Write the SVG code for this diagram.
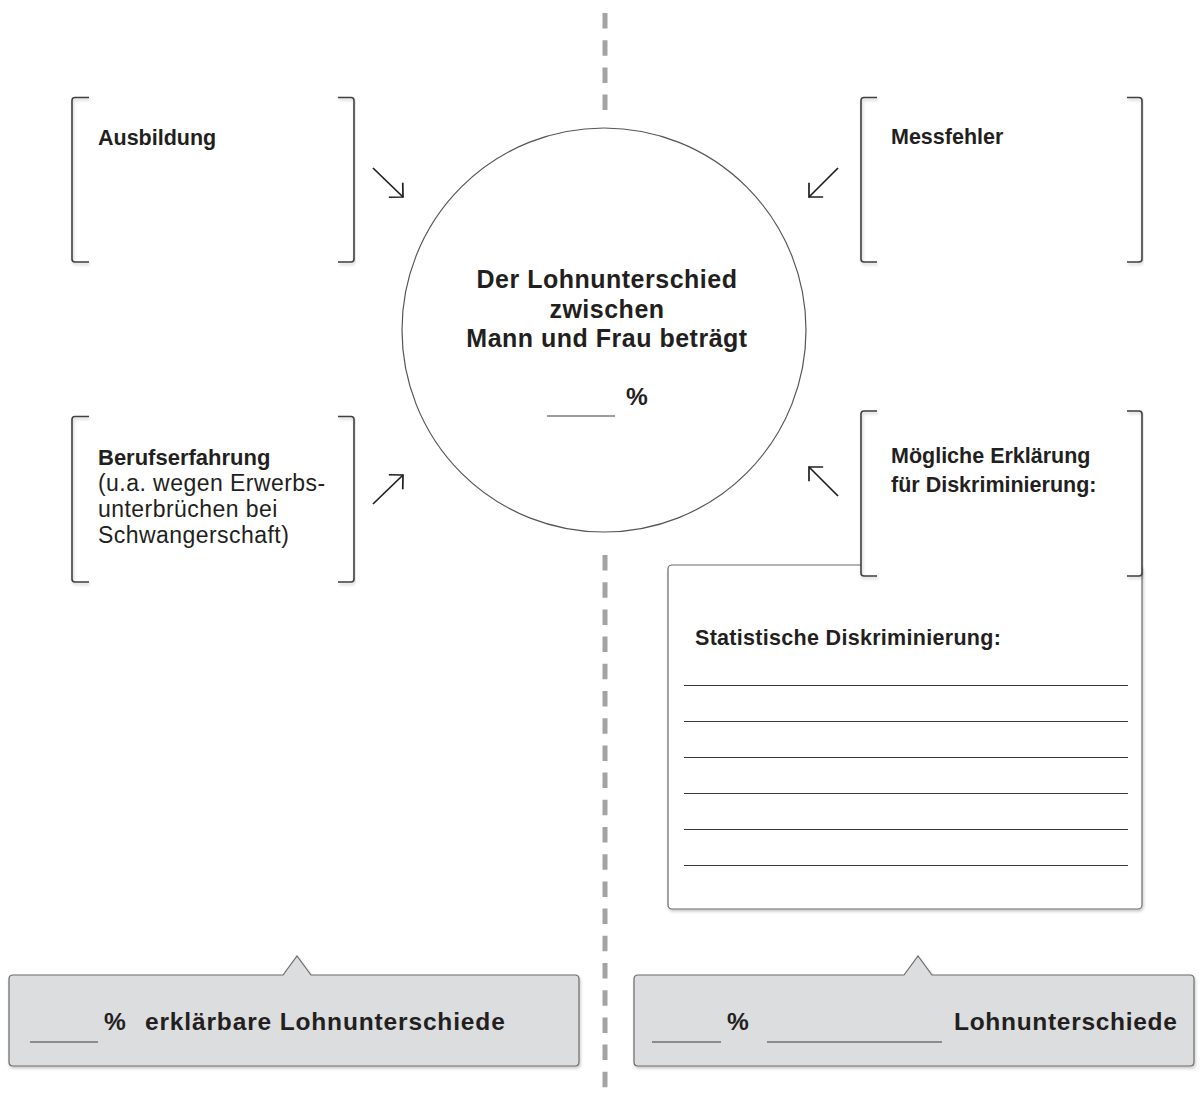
<svg xmlns="http://www.w3.org/2000/svg" width="1200" height="1099" viewBox="0 0 1200 1099">
<defs>
<filter id="sh" x="-10%" y="-10%" width="120%" height="130%">
<feDropShadow dx="1" dy="2" stdDeviation="1.5" flood-color="#000" flood-opacity="0.22"/>
</filter>
<marker id="head" markerUnits="userSpaceOnUse" viewBox="-15 -15 30 30" markerWidth="30" markerHeight="30" refX="0" refY="0" orient="auto">
<path d="M-10,-10 L0,0 L-10,10" fill="none" stroke="#1f1f1f" stroke-width="1.7"/>
</marker>
<style>
.br{fill:none;stroke:#3f3f3f;stroke-width:1.6;filter:url(#sh)}
.lbl{font-family:"Liberation Sans",Arial,sans-serif;font-size:21.5px;font-weight:bold;fill:#231f20}
.reg{font-family:"Liberation Sans",Arial,sans-serif;font-size:23px;fill:#231f20;letter-spacing:0.45px}
.big{font-family:"Liberation Sans",Arial,sans-serif;font-size:25px;font-weight:bold;fill:#231f20;letter-spacing:0.5px}
.cap{font-family:"Liberation Sans",Arial,sans-serif;font-size:24.5px;font-weight:bold;fill:#231f20}
.blank{stroke:#3a3a3a;stroke-width:1.2}
.rule{stroke:#3a3a3a;stroke-width:1.2}
.arr{fill:none;stroke:#1f1f1f;stroke-width:1.7;marker-end:url(#head)}
.call{fill:#dcdddf;stroke:#6a6a6a;stroke-width:1.2;filter:url(#sh)}
.dash{stroke:#a3a3a5;stroke-width:5;stroke-dasharray:15.5 11.7}
</style>
</defs>
<rect width="1200" height="1099" fill="#ffffff"/>

<g id="divider">
<line class="dash" x1="605" y1="13" x2="605" y2="110"/>
<line class="dash" x1="605" y1="555" x2="605" y2="1099"/>
</g>

<g id="center-circle">
<circle cx="604" cy="330" r="202" fill="#ffffff" stroke="#555" stroke-width="1.2"/>
<text class="big" x="607" y="288" text-anchor="middle">Der Lohnunterschied</text>
<text class="big" x="607" y="318" text-anchor="middle">zwischen</text>
<text class="big" x="607" y="347" text-anchor="middle">Mann und Frau beträgt</text>
<line class="blank" x1="547" y1="416" x2="615" y2="416"/>
<text class="cap" x="626" y="405">%</text>
</g>

<g id="ausbildung">
<path class="br" d="M89,97.5 H75 Q72,97.5 72,100.5 V259 Q72,262 75,262 H89"/>
<path class="br" d="M338,97.5 H351 Q354,97.5 354,100.5 V259 Q354,262 351,262 H338"/>
<text class="lbl" x="98" y="145">Ausbildung</text>
</g>

<g id="berufserfahrung">
<path class="br" d="M89,416.5 H75 Q72,416.5 72,419.5 V579 Q72,582 75,582 H89"/>
<path class="br" d="M338,416.5 H351 Q354,416.5 354,419.5 V579 Q354,582 351,582 H338"/>
<text class="lbl" x="98" y="465" style="font-size:22px">Berufserfahrung</text>
<text class="reg" x="98" y="491">(u.a. wegen Erwerbs-</text>
<text class="reg" x="98" y="517">unterbrüchen bei</text>
<text class="reg" x="98" y="543">Schwangerschaft)</text>
</g>

<g id="messfehler">
<path class="br" d="M877,97.5 H864 Q861,97.5 861,100.5 V259 Q861,262 864,262 H877"/>
<path class="br" d="M1127,97.5 H1139 Q1142,97.5 1142,100.5 V259 Q1142,262 1139,262 H1127"/>
<text class="lbl" x="891" y="144">Messfehler</text>
</g>

<g id="statistische-diskriminierung">
<rect x="668" y="565" width="474" height="344" rx="4" ry="4" fill="#ffffff" stroke="#6a6a6a" stroke-width="1.2" filter="url(#sh)"/>
<text class="lbl" x="695" y="645" style="font-size:21.5px;letter-spacing:0.3px">Statistische Diskriminierung:</text>
<line class="rule" x1="684" y1="685.5" x2="1128" y2="685.5"/>
<line class="rule" x1="684" y1="721.5" x2="1128" y2="721.5"/>
<line class="rule" x1="684" y1="757.5" x2="1128" y2="757.5"/>
<line class="rule" x1="684" y1="793.5" x2="1128" y2="793.5"/>
<line class="rule" x1="684" y1="829.5" x2="1128" y2="829.5"/>
<line class="rule" x1="684" y1="865.5" x2="1128" y2="865.5"/>
</g>

<g id="moegliche-erklaerung">
<rect x="861" y="411" width="281" height="165" fill="#ffffff"/>
<path class="br" d="M877,411 H864 Q861,411 861,414 V573 Q861,576 864,576 H877"/>
<path class="br" d="M1127,411 H1139 Q1142,411 1142,414 V573 Q1142,576 1139,576 H1127"/>
<text class="lbl" x="891" y="463">Mögliche Erklärung</text>
<text class="lbl" x="891" y="492">für Diskriminierung:</text>
</g>

<g id="erklaerbar">
<path class="call" d="M13,975 H283 L297,956 L311,975 H575 Q579,975 579,979 V1062 Q579,1066 575,1066 H13 Q9,1066 9,1062 V979 Q9,975 13,975 Z"/>
<line class="blank" x1="30" y1="1042" x2="98" y2="1042"/>
<text class="cap" x="104" y="1030">%</text>
<text class="cap" x="145" y="1030" style="letter-spacing:0.85px">erklärbare Lohnunterschiede</text>
</g>

<g id="unerklaerbar">
<path class="call" d="M638,975 H904 L918,956 L932,975 H1190 Q1194,975 1194,979 V1062 Q1194,1066 1190,1066 H638 Q634,1066 634,1062 V979 Q634,975 638,975 Z"/>
<line class="blank" x1="652" y1="1042" x2="721" y2="1042"/>
<text class="cap" x="727" y="1030">%</text>
<line class="blank" x1="767" y1="1042" x2="942" y2="1042"/>
<text class="cap" x="954" y="1030" style="letter-spacing:0.7px">Lohnunterschiede</text>
</g>

<g id="connectors">
<line class="arr" x1="373" y1="168" x2="403" y2="197"/>
<line class="arr" x1="373" y1="504" x2="403" y2="475"/>
<line class="arr" x1="838" y1="168" x2="809" y2="197"/>
<line class="arr" x1="838" y1="496" x2="809" y2="467"/>
</g>
</svg>
